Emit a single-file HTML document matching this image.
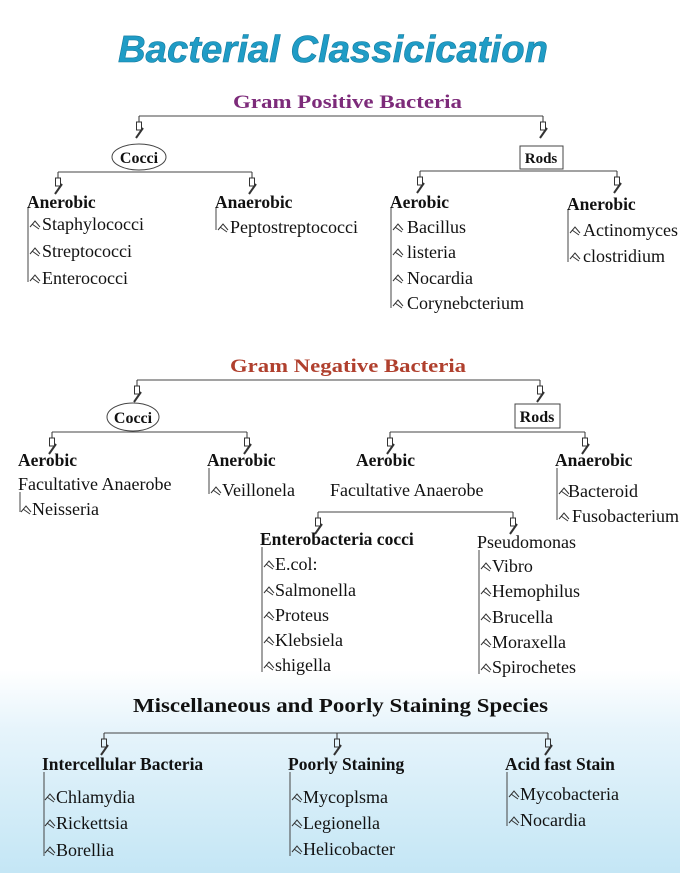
<!DOCTYPE html>
<html><head><meta charset="utf-8"><style>
html,body{margin:0;padding:0}
body{width:680px;height:873px;overflow:hidden;background:linear-gradient(to bottom,#fff 0,#fff 670px,#e6f4fb 730px,#c4e6f5 873px)}
svg{display:block}
text{font-family:"Liberation Serif",serif;fill:#111}
.b{font-weight:bold;font-size:17.5px}
.i{font-size:18px}
</style></head><body>
<svg width="680" height="873" viewBox="0 0 680 873">
<defs>
<g id="ar" stroke="#333" stroke-width="1" fill="none">
<line x1="0" y1="0" x2="0" y2="6"/><rect x="-2.5" y="6" width="5" height="8"/><line x1="4" y1="12" x2="-3" y2="22" stroke-width="2"/>
</g>
<g id="bl" stroke="#333" stroke-width="1" fill="none"><path d="M0 0 L5 -6 L10 0 M2 -3 L9 2"/></g>
</defs>
<text x="118" y="62" textLength="430" lengthAdjust="spacingAndGlyphs" style="font-family:'Liberation Sans',sans-serif;font-weight:bold;font-style:italic;font-size:38px;fill:#1f9cc6;stroke:#147a9e;stroke-width:.6">Bacterial Classicication</text>

<!-- Gram positive -->
<text x="233" y="108" textLength="229" lengthAdjust="spacingAndGlyphs" style="font-weight:bold;font-size:19px;fill:#7d2b7a">Gram Positive Bacteria</text>
<g stroke="#444" fill="none"><line x1="139" y1="116" x2="543" y2="116"/>
<ellipse cx="139" cy="157" rx="27" ry="13"/><rect x="520" y="146" width="43" height="23"/>
<line x1="58" y1="172" x2="252" y2="172"/><line x1="420" y1="171" x2="617" y2="171"/>
<line x1="28" y1="208" x2="28" y2="282"/><line x1="216" y1="208" x2="216" y2="230"/>
<line x1="391" y1="208" x2="391" y2="308"/><line x1="568" y1="210" x2="568" y2="262"/></g>
<use href="#ar" x="139" y="116"/><use href="#ar" x="543" y="116"/>
<use href="#ar" x="58" y="172"/><use href="#ar" x="252" y="172"/><use href="#ar" x="420" y="171"/><use href="#ar" x="617" y="171"/>
<text x="139" y="163" text-anchor="middle" class="b" style="font-size:16px">Cocci</text>
<text x="541" y="163" text-anchor="middle" class="b" style="font-size:15px">Rods</text>
<text x="27" y="208" class="b">Anerobic</text>
<text x="42" y="230" class="i">Staphylococci</text><text x="42" y="257" class="i">Streptococci</text><text x="42" y="284" class="i">Enterococci</text>
<text x="215" y="208" class="b">Anaerobic</text><text x="230" y="233" class="i">Peptostreptococci</text>
<text x="390" y="208" class="b">Aerobic</text>
<text x="407" y="233" class="i">Bacillus</text><text x="407" y="258" class="i">listeria</text><text x="407" y="284" class="i">Nocardia</text><text x="407" y="309" class="i">Corynebcterium</text>
<text x="567" y="210" class="b">Anerobic</text><text x="583" y="236" class="i">Actinomyces</text><text x="583" y="262" class="i">clostridium</text>
<use href="#bl" x="30" y="227"/><use href="#bl" x="30" y="254"/><use href="#bl" x="30" y="281"/><use href="#bl" x="218" y="230"/>
<use href="#bl" x="393" y="230"/><use href="#bl" x="393" y="255"/><use href="#bl" x="393" y="281"/><use href="#bl" x="393" y="306"/>
<use href="#bl" x="570" y="233"/><use href="#bl" x="570" y="259"/>

<!-- Gram negative -->
<text x="230" y="372" textLength="236" lengthAdjust="spacingAndGlyphs" style="font-weight:bold;font-size:19px;fill:#b0402e">Gram Negative Bacteria</text>
<g stroke="#444" fill="none"><line x1="137" y1="380" x2="540" y2="380"/>
<ellipse cx="133" cy="417" rx="26" ry="14"/><rect x="515" y="404" width="45" height="24"/>
<line x1="52" y1="432" x2="247" y2="432"/><line x1="390" y1="432" x2="585" y2="432"/>
<line x1="20" y1="492" x2="20" y2="512"/><line x1="209" y1="468" x2="209" y2="494"/>
<line x1="557" y1="468" x2="557" y2="520"/><line x1="318" y1="512" x2="513" y2="512"/>
<line x1="262" y1="547" x2="262" y2="672"/><line x1="479" y1="550" x2="479" y2="674"/></g>
<use href="#ar" x="137" y="380"/><use href="#ar" x="540" y="380"/>
<use href="#ar" x="52" y="432"/><use href="#ar" x="247" y="432"/><use href="#ar" x="390" y="432"/><use href="#ar" x="585" y="432"/>
<use href="#ar" x="318" y="512"/><use href="#ar" x="513" y="512"/>
<text x="133" y="423" text-anchor="middle" class="b" style="font-size:16px">Cocci</text>
<text x="537" y="422" text-anchor="middle" class="b" style="font-size:16px">Rods</text>
<text x="18" y="466" class="b">Aerobic</text><text x="18" y="490" class="i">Facultative Anaerobe</text><text x="32" y="515" class="i">Neisseria</text>
<text x="207" y="466" class="b">Anerobic</text><text x="222" y="496" class="i">Veillonela</text>
<text x="356" y="466" class="b">Aerobic</text><text x="330" y="496" class="i">Facultative  Anaerobe</text>
<text x="555" y="466" class="b">Anaerobic</text><text x="568" y="497" class="i">Bacteroid</text><text x="572" y="522" class="i">Fusobacterium</text>
<text x="260" y="545" class="b">Enterobacteria cocci</text>
<text x="275" y="570" class="i">E.col:</text><text x="275" y="596" class="i">Salmonella</text><text x="275" y="621" class="i">Proteus</text><text x="275" y="646" class="i">Klebsiela</text><text x="275" y="671" class="i">shigella</text>
<text x="477" y="548" class="i">Pseudomonas</text>
<text x="492" y="572" class="i">Vibro</text><text x="492" y="597" class="i">Hemophilus</text><text x="492" y="623" class="i">Brucella</text><text x="492" y="648" class="i">Moraxella</text><text x="492" y="673" class="i">Spirochetes</text>
<use href="#bl" x="21" y="512"/><use href="#bl" x="211" y="493"/><use href="#bl" x="559" y="494"/><use href="#bl" x="559" y="519"/>
<use href="#bl" x="264" y="567"/><use href="#bl" x="264" y="593"/><use href="#bl" x="264" y="618"/><use href="#bl" x="264" y="643"/><use href="#bl" x="264" y="668"/>
<use href="#bl" x="481" y="569"/><use href="#bl" x="481" y="594"/><use href="#bl" x="481" y="620"/><use href="#bl" x="481" y="645"/><use href="#bl" x="481" y="670"/>

<!-- Misc -->
<text x="133" y="712" textLength="415" lengthAdjust="spacingAndGlyphs" style="font-weight:bold;font-size:20px">Miscellaneous and Poorly Staining Species</text>
<g stroke="#444" fill="none"><line x1="104" y1="733" x2="548" y2="733"/>
<line x1="44" y1="772" x2="44" y2="856"/><line x1="290" y1="772" x2="290" y2="856"/><line x1="507" y1="772" x2="507" y2="826"/></g>
<use href="#ar" x="104" y="733"/><use href="#ar" x="337" y="733"/><use href="#ar" x="548" y="733"/>
<text x="42" y="770" class="b">Intercellular Bacteria</text>
<text x="56" y="803" class="i">Chlamydia</text><text x="56" y="829" class="i">Rickettsia</text><text x="56" y="856" class="i">Borellia</text>
<text x="288" y="770" class="b">Poorly Staining</text>
<text x="303" y="803" class="i">Mycoplsma</text><text x="303" y="829" class="i">Legionella</text><text x="303" y="855" class="i">Helicobacter</text>
<text x="505" y="770" class="b">Acid fast Stain</text>
<text x="520" y="800" class="i">Mycobacteria</text><text x="520" y="826" class="i">Nocardia</text>
<use href="#bl" x="45" y="800"/><use href="#bl" x="45" y="826"/><use href="#bl" x="45" y="853"/>
<use href="#bl" x="292" y="800"/><use href="#bl" x="292" y="826"/><use href="#bl" x="292" y="852"/>
<use href="#bl" x="509" y="797"/><use href="#bl" x="509" y="823"/>
</svg>
</body></html>
